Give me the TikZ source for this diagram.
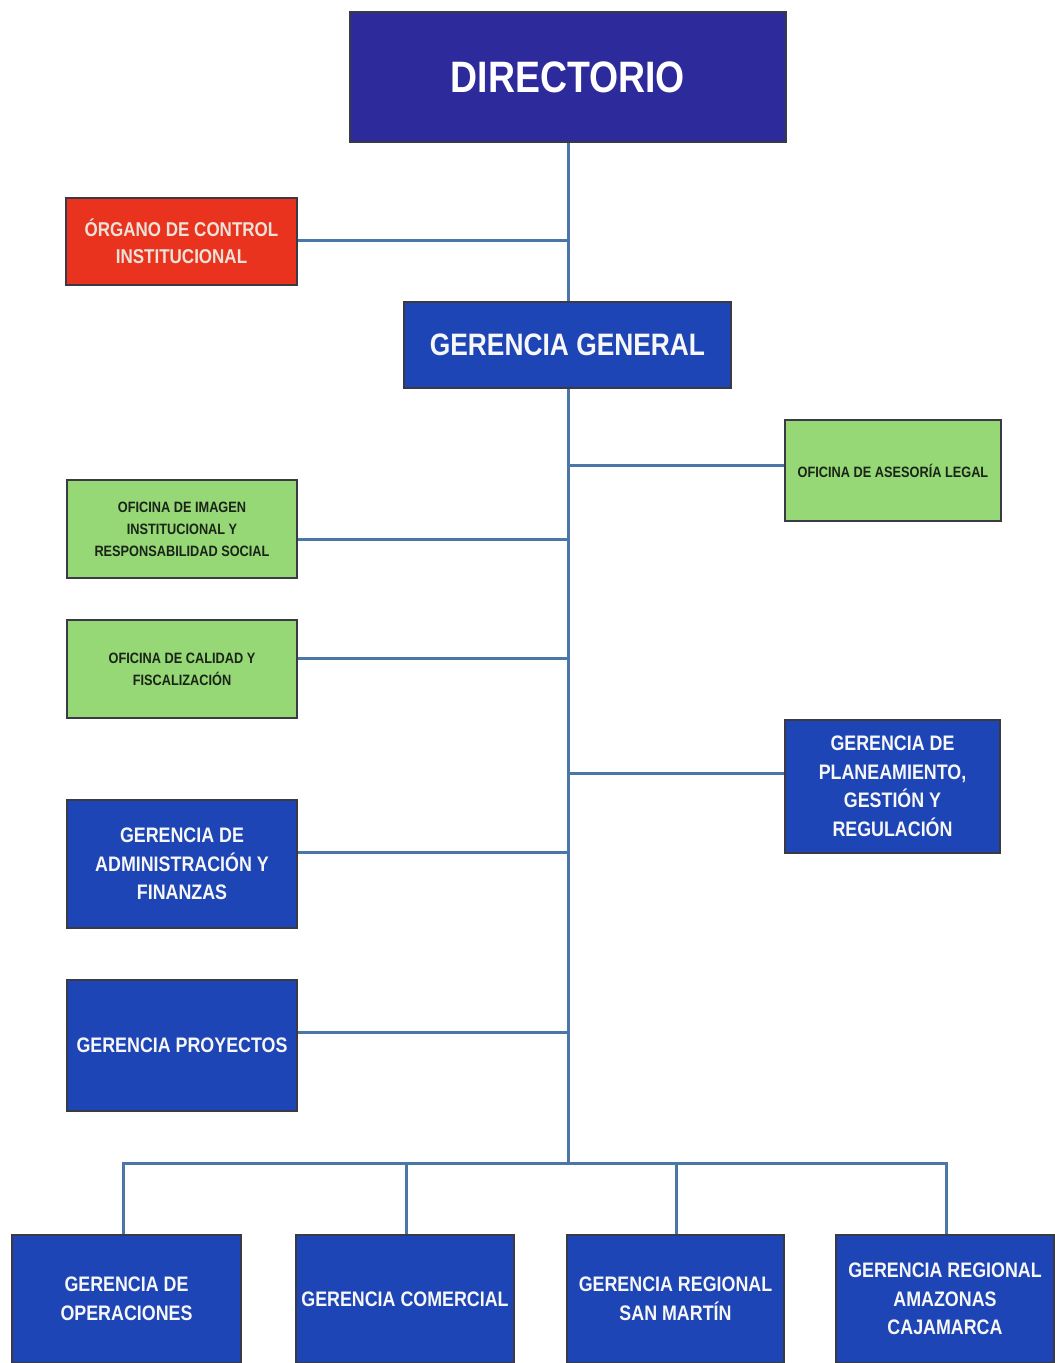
\documentclass[tikz,border=0pt]{standalone}
\usepackage{fontspec}
\setmainfont{Liberation Sans}
\newfontfamily\cnd[FakeStretch=0.85]{Liberation Sans}
\definecolor{dirblue}{HTML}{2D2A9B}
\definecolor{gblue}{HTML}{1D45B5}
\definecolor{ored}{HTML}{E9331F}
\definecolor{ogreen}{HTML}{97D876}
\definecolor{boxline}{HTML}{3A3A44}
\definecolor{lineblue}{HTML}{4A76A8}
\definecolor{redtext}{HTML}{EDE2D8}
\definecolor{greentext}{HTML}{1A2418}
\begin{document}
\begin{tikzpicture}[x=1pt,y=-1pt,
  box/.style={draw=boxline, line width=1.6pt, inner sep=0pt, align=center},
  bluebox/.style={box, fill=gblue, text=white!94!gray, font=\cnd\bfseries\fontsize{21}{28.5}\selectfont},
  greenbox/.style={box, fill=ogreen, text=greentext, font=\cnd\bfseries\fontsize{15}{22}\selectfont},
  redbox/.style={box, fill=ored, text=redtext, font=\cnd\bfseries\fontsize{20}{27}\selectfont},
  conn/.style={draw=lineblue, line width=3pt}]
\fill[white] (0,0) rectangle (1055,1363);
\useasboundingbox (0,0) rectangle (1055,1363);

% nodes
\node[box, fill=dirblue, text=white, font=\cnd\bfseries\fontsize{44}{50}\selectfont,
      minimum width=436pt, minimum height=130pt] (dir) at (568,77) {DIRECTORIO};
\node[redbox, minimum width=231pt, minimum height=87pt] (oci) at (181.5,241.5)
  {ÓRGANO DE CONTROL\\INSTITUCIONAL};
\node[bluebox, font=\cnd\bfseries\fontsize{31}{36}\selectfont,
      minimum width=327pt, minimum height=86pt] (gg) at (567.5,345) {GERENCIA GENERAL};
\node[greenbox, minimum width=216pt, minimum height=101pt] (legal) at (893,470.5)
  {OFICINA DE ASESORÍA LEGAL};
\node[greenbox, minimum width=230pt, minimum height=98pt] (imagen) at (182,529)
  {OFICINA DE IMAGEN\\INSTITUCIONAL Y\\RESPONSABILIDAD SOCIAL};
\node[greenbox, minimum width=230pt, minimum height=98pt] (calidad) at (182,669)
  {OFICINA DE CALIDAD Y\\FISCALIZACIÓN};
\node[bluebox, minimum width=215pt, minimum height=133pt] (plan) at (892.5,786.5)
  {GERENCIA DE\\PLANEAMIENTO,\\GESTIÓN Y\\REGULACIÓN};
\node[bluebox, minimum width=230pt, minimum height=128pt] (admin) at (182,864)
  {GERENCIA DE\\ADMINISTRACIÓN Y\\FINANZAS};
\node[bluebox, minimum width=230pt, minimum height=131pt] (proy) at (182,1045.5)
  {GERENCIA PROYECTOS};
\node[bluebox, minimum width=229pt, minimum height=128pt] (oper) at (126.5,1299)
  {GERENCIA DE\\OPERACIONES};
\node[bluebox, minimum width=218pt, minimum height=128pt] (com) at (405,1299)
  {GERENCIA COMERCIAL};
\node[bluebox, minimum width=217pt, minimum height=128pt] (sm) at (675.5,1299)
  {GERENCIA REGIONAL\\SAN MARTÍN};
\node[bluebox, minimum width=218pt, minimum height=128pt] (ama) at (945,1299)
  {GERENCIA REGIONAL\\AMAZONAS\\CAJAMARCA};

% junction coordinates on the trunk
\coordinate (tOCI) at (568,240);
\coordinate (tLeg) at (568,465);
\coordinate (tImg) at (568,539);
\coordinate (tCal) at (568,658);
\coordinate (tPlan) at (568,773);
\coordinate (tAdm) at (568,852);
\coordinate (tPro) at (568,1032);
\coordinate (bus) at (568,1163);
\coordinate (dOper) at (123,1163);
\coordinate (dCom) at (406,1163);
\coordinate (dSm) at (676,1163);
\coordinate (dAma) at (946,1163);

% connectors
\draw[conn] (dir.south -| tOCI) -- (gg.north -| tOCI);
\draw[conn] (gg.south -| bus) -- (bus);
\draw[conn] (oci.east |- tOCI) -- (tOCI);
\draw[conn] (legal.west |- tLeg) -- (tLeg);
\draw[conn] (imagen.east |- tImg) -- (tImg);
\draw[conn] (calidad.east |- tCal) -- (tCal);
\draw[conn] (plan.west |- tPlan) -- (tPlan);
\draw[conn] (admin.east |- tAdm) -- (tAdm);
\draw[conn] (proy.east |- tPro) -- (tPro);
\draw[conn, line cap=rect] (dOper) -- (dAma);
\draw[conn] (dOper) -- (dOper |- oper.north);
\draw[conn] (dCom) -- (dCom |- com.north);
\draw[conn] (dSm) -- (dSm |- sm.north);
\draw[conn] (dAma) -- (dAma |- ama.north);
\end{tikzpicture}
\end{document}
